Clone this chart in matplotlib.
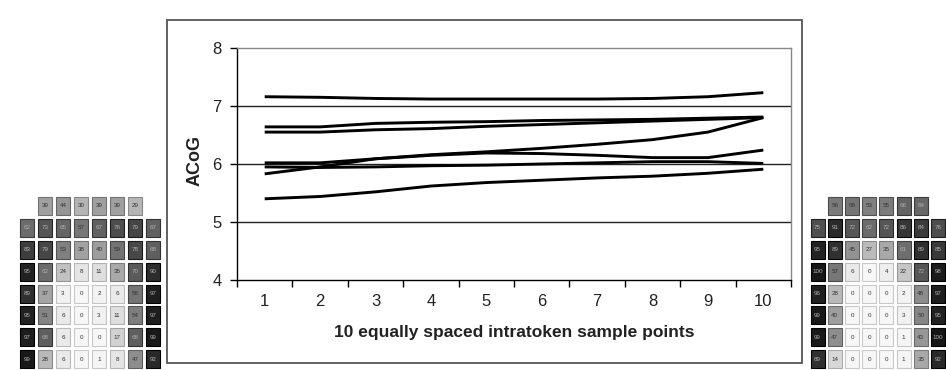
import numpy as np
import matplotlib
matplotlib.use("Agg")
import matplotlib.pyplot as plt
from matplotlib.patches import Rectangle

plt.rcParams["font.family"] = ["Liberation Sans", "DejaVu Sans"]

# ---------------------------------------------------------------------------
# ACoG trajectories over the 10 sample points (one list per token type)
# ---------------------------------------------------------------------------
SAMPLE_POINTS = np.arange(1, 11)
ACOG_A = [7.16, 7.15, 7.13, 7.12, 7.12, 7.12, 7.12, 7.13, 7.16, 7.23]
ACOG_B = [6.64, 6.64, 6.70, 6.72, 6.73, 6.75, 6.76, 6.77, 6.79, 6.81]
ACOG_C = [6.55, 6.55, 6.59, 6.61, 6.65, 6.68, 6.71, 6.74, 6.77, 6.80]
ACOG_D = [6.02, 6.02, 6.09, 6.15, 6.19, 6.18, 6.15, 6.11, 6.11, 6.24]
ACOG_E = [5.95, 5.94, 5.95, 5.97, 5.98, 6.00, 6.02, 6.04, 6.04, 6.01]
ACOG_F = [5.83, 5.95, 6.09, 6.16, 6.21, 6.27, 6.34, 6.42, 6.55, 6.80]
ACOG_G = [5.40, 5.44, 5.52, 5.62, 5.68, 5.72, 5.76, 5.79, 5.84, 5.91]
ACOG_SERIES = [ACOG_A, ACOG_B, ACOG_C, ACOG_D, ACOG_E, ACOG_F, ACOG_G]

Y_TICKS = [4, 5, 6, 7, 8]
X_LABEL = "10 equally spaced intratoken sample points"
Y_LABEL = "ACoG"

# ---------------------------------------------------------------------------
# EPG contact percentages (8 rows x 8 electrodes, first row has 6)
# ---------------------------------------------------------------------------
nan = np.nan
PALATE_LEFT = [
    [nan, 39, 44, 30, 39, 39, 29, nan],
    [62, 73, 65, 57, 67, 76, 79, 67],
    [83, 79, 53, 38, 40, 59, 78, 68],
    [95, 62, 24, 8, 11, 35, 70, 90],
    [89, 37, 3, 0, 2, 6, 58, 97],
    [95, 51, 6, 0, 3, 11, 54, 97],
    [97, 68, 6, 0, 0, 17, 68, 99],
    [99, 28, 6, 0, 1, 8, 47, 92],
]
PALATE_RIGHT = [
    [nan, 56, 58, 53, 55, 66, 64, nan],
    [75, 91, 72, 62, 72, 86, 84, 76],
    [95, 89, 45, 27, 35, 61, 89, 85],
    [100, 57, 6, 0, 4, 22, 72, 98],
    [96, 28, 0, 0, 0, 2, 48, 97],
    [99, 40, 0, 0, 0, 3, 50, 95],
    [99, 47, 0, 0, 0, 1, 43, 100],
    [89, 14, 0, 0, 0, 1, 35, 92],
]

W, H = 946, 370
fig = plt.figure(figsize=(W / 100, H / 100), dpi=100)


def px_axes(x0, y0, x1, y1):
    """Axes from pixel box (top-left origin)."""
    return fig.add_axes([x0 / W, 1 - y1 / H, (x1 - x0) / W, (y1 - y0) / H])


def draw_palate(ax, grid):
    grid = np.array(grid, dtype=float)
    nrow, ncol = grid.shape
    gx, gy = 0.09, 0.09
    for r in range(nrow):
        for c in range(ncol):
            v = grid[r, c]
            if np.isnan(v):
                continue
            g = 0.97 - 0.88 * v / 100.0
            edge = max(g - 0.18, 0.0)
            ax.add_patch(Rectangle((c + gx, r + gy), 1 - 2 * gx, 1 - 2 * gy,
                                   facecolor=(g, g, g), edgecolor=(edge, edge, edge),
                                   lw=0.8))
            tc = "#b0b0b0" if v >= 60 else "#333333"
            ax.text(c + 0.5, r + 0.5, f"{int(v)}", ha="center", va="center",
                    fontsize=4.5, color=tc)
    ax.set_xlim(0, ncol)
    ax.set_ylim(nrow, 0)
    ax.axis("off")


# --- EPG panels ---
ax_l = px_axes(18, 195, 18 + 8 * 18, 195 + 8 * 21.9)
draw_palate(ax_l, PALATE_LEFT)
ax_r = px_axes(809, 195, 809 + 8 * 17.2, 195 + 8 * 21.9)
draw_palate(ax_r, PALATE_RIGHT)

# --- frame around the chart ---
fig.patches.append(Rectangle((167 / W, 1 - 363 / H), (802 - 167) / W, (363 - 20) / H,
                             transform=fig.transFigure, fill=False,
                             edgecolor="#555555", lw=1.3))

# --- main ACoG chart ---
ax = px_axes(237, 48, 791, 280)
for series in ACOG_SERIES:
    ax.plot(SAMPLE_POINTS, series, color="black", lw=2.1, solid_capstyle="butt")

for y in Y_TICKS[1:-1]:
    ax.axhline(y, color="#222222", lw=1.0, zorder=0)

ax.set_xlim(0.5, 10.5)
ax.set_ylim(4, 8)
ax.set_yticks(Y_TICKS)
ax.set_xticks(SAMPLE_POINTS)
ax.set_xticks(np.arange(0.5, 11, 1), minor=True)
ax.tick_params(axis="x", which="major", length=0, pad=10, labelsize=12, labelcolor="#222222")
ax.tick_params(axis="x", which="minor", length=5, width=1, direction="out", color="black")
ax.tick_params(axis="y", length=5, width=1, pad=6, labelsize=12, labelcolor="#222222")

for side in ("left", "bottom"):
    ax.spines[side].set_color("black")
    ax.spines[side].set_linewidth(1.0)
for side in ("top", "right"):
    ax.spines[side].set_color("#888888")
    ax.spines[side].set_linewidth(1.0)

fig.text(514 / W, 1 - 333 / H, X_LABEL, ha="center", va="center",
         fontsize=12.5, fontweight="bold", color="#222222")
fig.text(195 / W, 1 - 160 / H, Y_LABEL, ha="center", va="center", rotation=90,
         fontsize=13, fontweight="bold", color="#222222")

fig.savefig("out.png", dpi=100)
